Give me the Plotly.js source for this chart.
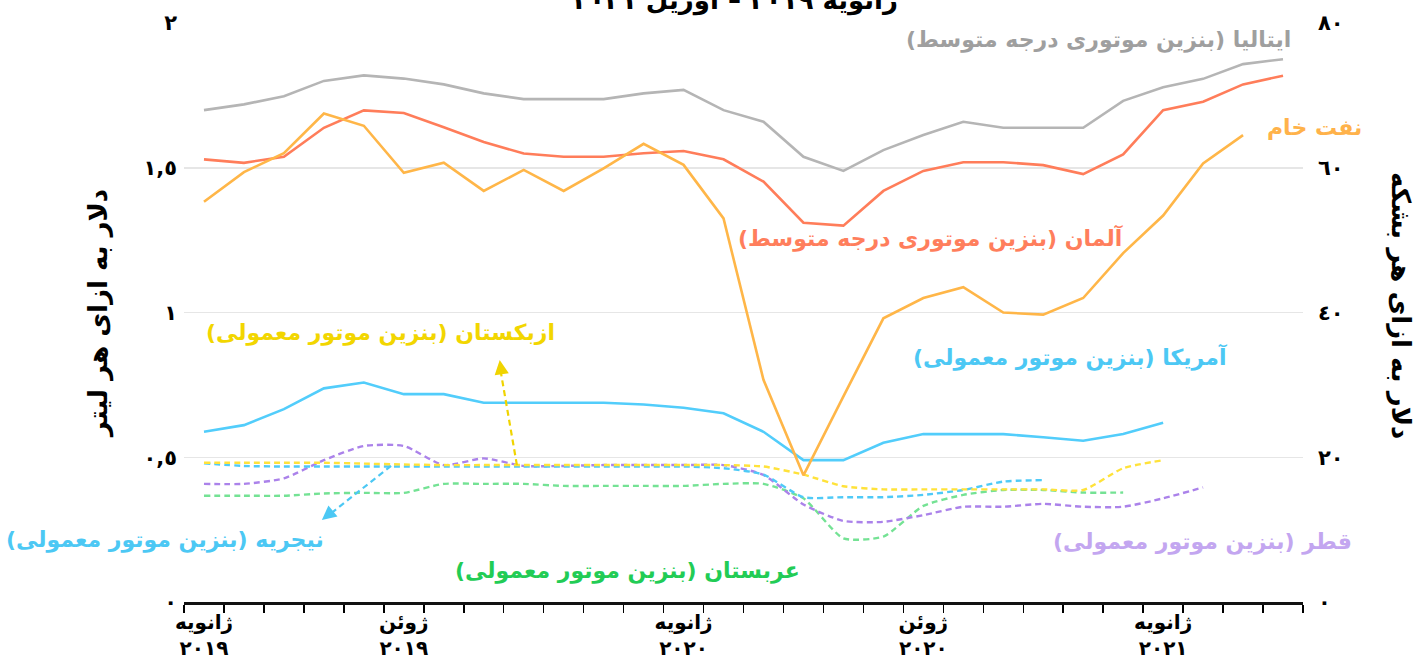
<!DOCTYPE html>
<html>
<head>
<meta charset="utf-8">
<script src="https://cdn.plot.ly/plotly-3.0.1.min.js"></script>
<style>html,body{margin:0;padding:0;background:#fff;}#chart{width:1426px;height:671px;}</style>
</head>
<body>
<div id="chart"></div>
<script>
// Categories: months Jan 2019 – Apr 2021
const months = ['2019-01','2019-02','2019-03','2019-04','2019-05','2019-06','2019-07','2019-08','2019-09','2019-10','2019-11','2019-12',
                '2020-01','2020-02','2020-03','2020-04','2020-05','2020-06','2020-07','2020-08','2020-09','2020-10','2020-11','2020-12',
                '2021-01','2021-02','2021-03','2021-04'];
const labelMonths = ['2019-01','2019-06','2020-01','2020-07','2021-01'];
const labelTexts  = ['ژانویه<br>٢٠١٩','ژوئن<br>٢٠١٩','ژانویه<br>٢٠٢٠','ژوئن<br>٢٠٢٠','ژانویه<br>٢٠٢١'];

// Left axis ($ per litre) and right axis ($ per barrel) ticks
const leftTickVals  = [0, 0.5, 1, 1.5, 2];
const leftTickText  = ['٠','٠,٥','١','١,٥','٢'];
const rightTickVals = [0, 20, 40, 60, 80];
const rightTickText = ['٠','٢٠','٤٠','٦٠','٨٠'];

// Series ($ / litre)
const italy   = [1.699,1.719,1.747,1.800,1.819,1.808,1.788,1.757,1.737,1.737,1.737,1.757,1.769,1.699,1.659,1.538,1.489,1.561,1.613,1.659,1.638,1.638,1.638,1.731,1.778,1.807,1.858,1.875];
const germany = [1.529,1.517,1.538,1.638,1.698,1.689,1.640,1.589,1.549,1.538,1.538,1.550,1.558,1.529,1.452,1.310,1.300,1.420,1.489,1.519,1.519,1.509,1.478,1.546,1.699,1.728,1.788,1.818];
const usa     = [0.588,0.611,0.666,0.738,0.758,0.718,0.718,0.688,0.688,0.688,0.688,0.682,0.671,0.652,0.588,0.490,0.490,0.550,0.580,0.580,0.580,0.569,0.557,0.580,0.619];
const uzbek   = [0.481,0.481,0.481,0.481,0.478,0.475,0.473,0.473,0.473,0.473,0.473,0.473,0.473,0.473,0.468,0.440,0.400,0.389,0.389,0.389,0.389,0.389,0.387,0.462,0.490];
const nigeria = [0.479,0.470,0.468,0.468,0.468,0.468,0.468,0.468,0.468,0.468,0.468,0.468,0.468,0.462,0.440,0.362,0.362,0.362,0.370,0.387,0.416,0.421];
const qatar   = [0.408,0.408,0.427,0.490,0.539,0.539,0.473,0.496,0.470,0.470,0.473,0.473,0.473,0.473,0.439,0.337,0.280,0.277,0.300,0.329,0.329,0.339,0.329,0.329,0.358,0.396];
const saudi   = [0.367,0.367,0.367,0.375,0.377,0.377,0.408,0.408,0.408,0.401,0.401,0.401,0.401,0.408,0.408,0.358,0.220,0.226,0.332,0.370,0.387,0.387,0.378,0.378];
// Crude oil ($ / barrel)
const crude   = [55.3,59.4,62.0,67.5,65.8,59.3,60.7,56.8,59.7,56.8,59.9,63.3,60.4,53.0,30.7,17.5,28.4,39.2,42.0,43.5,40.0,39.7,42.0,48.2,53.4,60.6,64.5];

// Series labels
const names = {
  italy:  'ایتالیا (بنزین موتوری درجه متوسط)',
  crude:  'نفت خام',
  germany:'آلمان (بنزین موتوری درجه متوسط)',
  uzbek:  'ازبکستان (بنزین موتور معمولی)',
  usa:    'آمریکا (بنزین موتور معمولی)',
  nigeria:'نیجریه (بنزین موتور معمولی)',
  saudi:  'عربستان (بنزین موتور معمولی)',
  qatar:  'قطر (بنزین موتور معمولی)'
};
const titleText = 'ژانویه ٢٠١٩ – آوریل ٢٠٢١';
const yTitleLeft = 'دلار به ازای هر لیتر';
const yTitleRight = 'دلار به ازای هر بشکه';

const FONT = 'DejaVu Sans, Noto Sans, sans-serif';
const xs = arr => months.slice(0, arr.length);

function solid(y, color, name, yaxis) {
  return {x: xs(y), y: y, type: 'scatter', mode: 'lines', name: name, yaxis: yaxis || 'y',
          line: {color: color, width: 2.6}, hoverinfo: 'skip'};
}
function dashed(y, color, name) {
  return {x: xs(y), y: y, type: 'scatter', mode: 'lines', name: name,
          line: {color: color, width: 2.4, dash: '6px,4px', shape: 'spline', smoothing: 0.6}, hoverinfo: 'skip'};
}

const traces = [
  dashed(saudi,   '#74e294', names.saudi),
  dashed(qatar,   '#ab82ea', names.qatar),
  dashed(nigeria, '#4fcaf7', names.nigeria),
  dashed(uzbek,   '#ffe23a', names.uzbek),
  solid(usa,      '#52cdfb', names.usa),
  solid(italy,    '#b5b5b5', names.italy),
  solid(germany,  '#ff7d5a', names.germany),
  solid(crude,    '#ffb648', names.crude, 'y2')
];

// plot area in px: x 184..1303, y 23..602
const L = 184, R = 1303, T = 23, B = 602;
const px = X => (X - L) / (R - L);
const py = Y => (B - Y) / (B - T);

function label(text, cx, cy, color) {
  return {text: text, xref: 'paper', yref: 'paper', x: px(cx), y: py(cy), xanchor: 'center', yanchor: 'middle',
          showarrow: false, font: {family: FONT, size: 22, color: color, weight: 'bold'}};
}

const annotations = [
  label(names.italy,   1098, 40,  '#9f9f9f'),
  label(names.crude,   1314, 127, '#ffb24a'),
  label(names.germany, 930,  238, '#ff7e5c'),
  label(names.uzbek,   380,  333, '#f2d600'),
  label(names.usa,     1070, 357, '#4cc8f4'),
  label(names.nigeria, 165,  540, '#4cc8f4'),
  label(names.saudi,   627,  571, '#22cc55'),
  label(names.qatar,   1202, 542, '#c3a6f0'),
  // arrowheads (short solid tips at the end of dashed connector lines)
  {x: 7.4, y: 0.836, xref: 'x', yref: 'y', ax: 2, ay: 14, text: '', showarrow: true,
   arrowhead: 2, arrowsize: 1.3, arrowwidth: 2.2, arrowcolor: '#f0d400'},
  {x: 2.95, y: 0.283, xref: 'x', yref: 'y', ax: 11, ay: -9, text: '', showarrow: true,
   arrowhead: 2, arrowsize: 1.3, arrowwidth: 2.2, arrowcolor: '#4cc8f4'},
  // right axis title
  {text: yTitleRight, xref: 'paper', yref: 'paper', x: px(1401), y: py(305), textangle: 90,
   showarrow: false, xanchor: 'center', yanchor: 'middle', font: {family: FONT, size: 26, color: '#000', weight: 'bold'}}
];

const shapes = [
  {type: 'line', xref: 'x', yref: 'y', x0: 7.83, y0: 0.473, x1: 7.42, y1: 0.80,
   line: {color: '#f0d400', width: 2.2, dash: '6px,4px'}},
  {type: 'line', xref: 'x', yref: 'y', x0: 4.68, y0: 0.47, x1: 3.12, y1: 0.30,
   line: {color: '#4cc8f4', width: 2.2, dash: '6px,4px'}}
];

const tickText = months.map(m => { const k = labelMonths.indexOf(m); return k >= 0 ? labelTexts[k] : ''; });

const layout = {
  width: 1426, height: 671,
  margin: {l: L, r: 1426 - R, t: T, b: 671 - B},
  paper_bgcolor: '#ffffff', plot_bgcolor: '#ffffff',
  showlegend: false,
  font: {family: FONT, color: '#000'},
  title: {text: titleText, x: 0.493, xref: 'paper', y: 1, yref: 'container', yanchor: 'middle',
          font: {family: FONT, size: 26, color: '#000', weight: 'bold'}},
  xaxis: {type: 'category', categoryorder: 'array', categoryarray: months, range: [-0.5, 27.5],
          tickvals: months, ticktext: tickText, tickson: 'boundaries', ticks: 'outside', ticklen: 8,
          tickwidth: 1.5, tickcolor: '#000', showline: true, linecolor: '#111', linewidth: 2.5,
          showgrid: false, zeroline: false, tickangle: 0,
          tickfont: {family: FONT, size: 20, color: '#000', weight: 'bold'}},
  yaxis: {range: [0, 2], tickvals: leftTickVals, ticktext: leftTickText, showgrid: true, gridcolor: '#e6e6e6',
          gridwidth: 1.5, zeroline: false, showline: false, ticks: '', ticklabelstandoff: 6,
          tickfont: {family: FONT, size: 21, color: '#000', weight: 'bold'},
          title: {text: yTitleLeft, standoff: 28, font: {family: FONT, size: 26, color: '#000', weight: 'bold'}}},
  yaxis2: {range: [0, 80], overlaying: 'y', side: 'right', tickvals: rightTickVals, ticktext: rightTickText,
           showgrid: false, zeroline: false, showline: false, ticks: '', ticklabelstandoff: 14,
           tickfont: {family: FONT, size: 21, color: '#000', weight: 'bold'}},
  annotations: annotations,
  shapes: shapes
};

Plotly.newPlot('chart', traces, layout, {displayModeBar: false, staticPlot: true});
</script>
</body>
</html>
